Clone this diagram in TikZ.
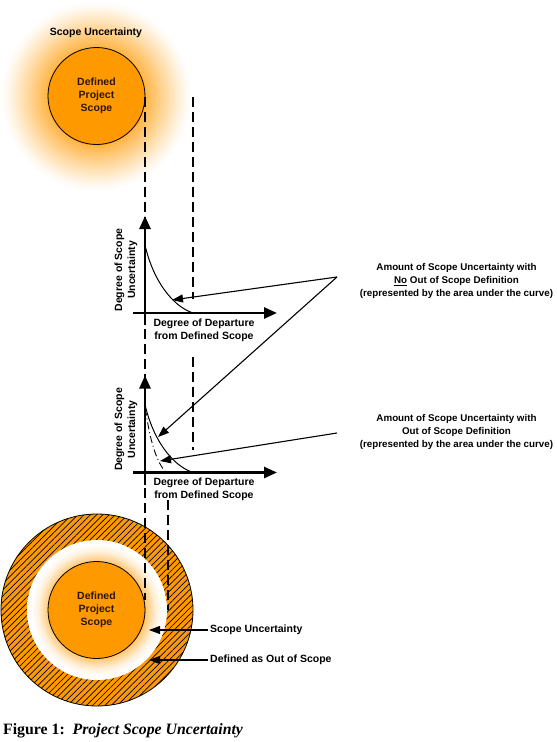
\documentclass[tikz,border=0pt]{standalone}
\usepackage{fontspec}
\setmainfont{Liberation Sans}
\newfontfamily\capfont{Liberation Serif}
\usetikzlibrary{arrows.meta,patterns.meta}
\definecolor{orF}{RGB}{255,153,0}
\definecolor{txtD}{RGB}{45,22,0}
\pgfdeclareradialshading{glowtop}{\pgfpoint{0bp}{0bp}}{color(0bp)=(orF); color(12.6bp)=(orF); color(13bp)=(orF!72); color(19bp)=(orF!32); color(23bp)=(orF!8); color(25bp)=(white); color(50bp)=(white)}
\pgfdeclareradialshading{glowbot}{\pgfpoint{0bp}{0bp}}{color(0bp)=(orF); color(17bp)=(orF); color(17.3bp)=(orF!55); color(21bp)=(orF!14); color(23.5bp)=(white); color(25bp)=(white); color(50bp)=(white)}
\begin{document}
\begin{tikzpicture}[x=1pt,y=-1pt,
  lbl/.style={font=\bfseries\fontsize{10.5}{13}\selectfont, align=center, inner sep=0pt},
  calltext/.style={font=\bfseries\fontsize{9.8}{13}\selectfont, align=center, inner sep=0pt},
  scopecirc/.style={circle, draw, line width=0.8pt, fill=orF, minimum size=97pt, inner sep=0pt, text=txtD, font=\bfseries\fontsize{10.5}{13}\selectfont, align=center},
  axis/.style={line width=2.6pt, -{Triangle[length=13pt,width=11pt]}},
  guide/.style={line width=1.2pt, dash pattern=on 10pt off 5pt},
  pointer/.style={line width=1.1pt, -{Triangle[length=11pt,width=8pt]}},
  curvel/.style={line width=1pt}]
\useasboundingbox (0,0) rectangle (557,742);
\fill[white] (0,0) rectangle (557,742);

% ---- top circle with glow
\shade[shading=glowtop] (96,96) circle (95);
\node[scopecirc] (topc) at (96.5,96) {Defined\\Project\\Scope};
\node[lbl] (topu) at (96,33) {Scope Uncertainty};

% ---- guide lines
\coordinate (g1a) at (145,97);  \coordinate (g1b) at (145,222);
\coordinate (g1c) at (145,329); \coordinate (g1d) at (145,380);
\coordinate (g1e) at (145,488); \coordinate (g1f) at (145,600);
\coordinate (g2a) at (193,97);  \coordinate (g2b) at (193,299);
\coordinate (g2c) at (193,357); \coordinate (g2d) at (193,450);
\coordinate (g3a) at (168,500); \coordinate (g3b) at (168,610);
\draw[guide] (g1a) -- (g1b);
\draw[guide] (g1c) -- (g1d);
\draw[guide] (g2a) -- (g2b);
\draw[guide] (g2c) -- (g2d);

% ---- plot 1
\coordinate (p1ya) at (145,325); \coordinate (p1yb) at (145,216);
\coordinate (p1xa) at (133,313); \coordinate (p1xb) at (277,313);
\draw[axis] (p1ya) -- (p1yb);
\draw[axis] (p1xa) -- (p1xb);
\draw[curvel] (145,245) .. controls (153,280) and (172,306) .. (193,313);
\node[lbl, rotate=90] (p1yl) at (126,270) {Degree of Scope\\Uncertainty};
\node[lbl, anchor=north] (p1xl) at (204,318.5) {Degree of Departure\\from Defined Scope};

% ---- plot 2
\begin{scope}[shift={(0,159.5)}]
\coordinate (p2ya) at (145,325); \coordinate (p2yb) at (145,216);
\coordinate (p2xa) at (133,313); \coordinate (p2xb) at (277,313);
\draw[axis] (p2ya) -- (p2yb);
\draw[axis] (p2xa) -- (p2xb);
\draw[curvel] (145,245) .. controls (153,280) and (172,306) .. (193,313);
\draw[line width=0.9pt, dash pattern=on 7pt off 3pt on 1pt off 3pt, dash phase=4pt] (146,253) .. controls (150,280) and (156,302) .. (166,313);
\node[lbl, rotate=90] (p2yl) at (126,270) {Degree of Scope\\Uncertainty};
\node[lbl, anchor=north] (p2xl) at (204,318.5) {Degree of Departure\\from Defined Scope};
\end{scope}

% ---- callouts
\node[calltext] (c1) at (456.5,281) {Amount of Scope Uncertainty with\\\underline{No} Out of Scope Definition\\(represented by the area under the curve)};
\node[calltext] (c2) at (456.5,432) {Amount of Scope Uncertainty with\\Out of Scope Definition\\(represented by the area under the curve)};
\coordinate (v1) at (337,277);
\coordinate (v2) at (337,433);
\coordinate (t1) at (172,300);
\coordinate (t2) at (158,437);
\coordinate (t3) at (160,461);
\draw[pointer] (v1) -- (t1);
\draw[pointer] (v1) -- (t2);
\draw[pointer] (v2) -- (t3);

% ---- bottom circle
\fill[orF] (97,610) circle (96);
\fill[pattern={Lines[angle=45,distance=4.4pt,line width=0.7pt]}] (97,610) circle (96);
\draw[line width=0.8pt] (97,610) circle (96);
\shade[shading=glowbot] (97,610) circle (70);
\node[scopecirc] (botc) at (96.5,610) {Defined\\Project\\Scope};
\draw[guide] (g1e) -- (g1f);
\draw[guide] (g3a) -- (g3b);

\node[lbl, anchor=west] (su) at (210,630) {Scope Uncertainty};
\node[lbl, anchor=west] (oos) at (210,660) {Defined as Out of Scope};
\coordinate (suT) at (149,630);
\coordinate (oosT) at (149,660);
\draw[pointer] ([xshift=-2pt]su.west) -- (suT);
\draw[pointer] ([xshift=-2pt]oos.west) -- (oosT);

% ---- caption
\node[anchor=west, inner sep=0pt, font=\capfont\bfseries\fontsize{15.8}{18}\selectfont] (cap) at (3,731) {Figure 1:\ \ \textit{Project Scope Uncertainty}};
\end{tikzpicture}
\end{document}
